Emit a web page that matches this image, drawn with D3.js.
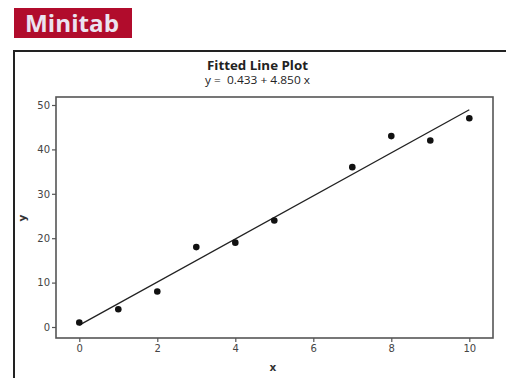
<!DOCTYPE html>
<html>
<head>
<meta charset="utf-8">
<script src="https://cdn.jsdelivr.net/npm/d3@7"></script>
<style>
  html, body { margin: 0; padding: 0; background: #fff; }
  svg { display: block; }
</style>
</head>
<body>
<svg id="chart" width="506" height="378"></svg>
<script>
// Observations
const xValues = [0, 1, 2, 3, 4, 5, 7, 8, 9, 10];
const yValues = [1, 4, 8, 18, 19, 24, 36, 43, 42, 47];

// Fitted line coefficients
const intercept = 0.433;
const slope = 4.850;

// Axis ticks
const xTicks = [0, 2, 4, 6, 8, 10];
const yTicks = [0, 10, 20, 30, 40, 50];

const titleText = "Fitted Line Plot";
const subtitleText = "y =  " + intercept.toFixed(3) + " + " + slope.toFixed(3) + " x";
const brandText = "Minitab";

const svg = d3.select("#chart");

// Brand banner
svg.append("rect")
  .attr("x", 14).attr("y", 8).attr("width", 118).attr("height", 30)
  .attr("fill", "#b10c2c");
svg.append("text")
  .attr("x", 25).attr("y", 32)
  .attr("font-family", "'Open Sans', 'DejaVu Sans', sans-serif")
  .attr("font-weight", "bold")
  .attr("font-size", 23)
  .attr("textLength", 94)
  .attr("lengthAdjust", "spacingAndGlyphs")
  .attr("fill", "#ebe3f0")
  .text(brandText);

// Outer frame of the graph window
svg.append("rect")
  .attr("x", 14).attr("y", 51).attr("width", 500).attr("height", 340)
  .attr("fill", "none")
  .attr("stroke", "#222")
  .attr("stroke-width", 2);

// Data region
const plot = { left: 56, top: 97, right: 493, bottom: 338 };

const x = d3.scaleLinear().domain([0, 10]).range([79.3, 469.3]);
const y = d3.scaleLinear().domain([0, 50]).range([327, 105]);

const g = svg.append("g");

// Title and equation
svg.append("text")
  .attr("x", 207).attr("y", 70)
  .attr("font-family", "'Open Sans', 'DejaVu Sans', sans-serif")
  .attr("font-weight", "bold")
  .attr("font-size", 13)
  .attr("textLength", 101)
  .attr("lengthAdjust", "spacingAndGlyphs")
  .attr("fill", "#222")
  .text(titleText);
svg.append("text")
  .attr("x", 205).attr("y", 84)
  .attr("font-family", "'Open Sans', 'DejaVu Sans', sans-serif")
  .attr("font-size", 10)
  .attr("textLength", 105)
  .attr("lengthAdjust", "spacingAndGlyphs")
  .attr("fill", "#222")
  .style("white-space", "pre")
  .text(subtitleText);

// Axes
const axisFont = "'DejaVu Sans', sans-serif";
const xAxis = g.append("g")
  .attr("transform", `translate(0,${plot.bottom})`)
  .call(d3.axisBottom(x).tickValues(xTicks).tickSize(4).tickPadding(3).tickFormat(d3.format("d")));
const yAxis = g.append("g")
  .attr("transform", `translate(${plot.left},0)`)
  .call(d3.axisLeft(y).tickValues(yTicks).tickSize(4).tickPadding(2).tickFormat(d3.format("d")));
[xAxis, yAxis].forEach(a => {
  a.select(".domain").remove();
  a.selectAll(".tick line").attr("stroke", "#555").attr("stroke-width", 1.2);
  a.selectAll(".tick text")
    .attr("font-family", axisFont)
    .attr("font-size", 10)
    .attr("fill", "#444");
});

// Data region border
g.append("rect")
  .attr("x", plot.left).attr("y", plot.top)
  .attr("width", plot.right - plot.left).attr("height", plot.bottom - plot.top)
  .attr("fill", "none")
  .attr("stroke", "#555")
  .attr("stroke-width", 1.6);

// Axis titles
svg.append("text")
  .attr("x", 273).attr("y", 371)
  .attr("text-anchor", "middle")
  .attr("font-family", axisFont)
  .attr("font-weight", "bold")
  .attr("font-size", 10.5)
  .attr("fill", "#333")
  .text("x");
svg.append("text")
  .attr("transform", "translate(26,218) rotate(-90)")
  .attr("text-anchor", "middle")
  .attr("font-family", axisFont)
  .attr("font-weight", "bold")
  .attr("font-size", 10.5)
  .attr("fill", "#333")
  .text("y");

// Fitted regression line
const fitDomain = d3.extent(xValues);
g.append("line")
  .attr("x1", x(fitDomain[0])).attr("y1", y(intercept + slope * fitDomain[0]))
  .attr("x2", x(fitDomain[1])).attr("y2", y(intercept + slope * fitDomain[1]))
  .attr("stroke", "#222")
  .attr("stroke-width", 1.3);

// Observation markers
g.selectAll("circle.obs")
  .data(xValues.map((v, i) => [v, yValues[i]]))
  .join("circle")
  .attr("class", "obs")
  .attr("cx", d => x(d[0]))
  .attr("cy", d => y(d[1]))
  .attr("r", 3.3)
  .attr("fill", "#111");
</script>
</body>
</html>
